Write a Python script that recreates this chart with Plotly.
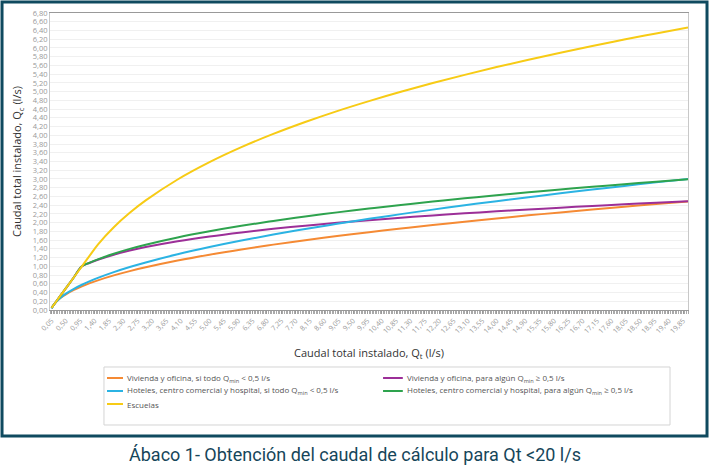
import plotly.graph_objects as go

# caudal total instalado Qt (l/s)
qt = [0.05, 0.1, 0.2, 0.35, 0.5, 0.75, 1.0, 1.25, 1.5, 2, 2.5, 3, 4, 5, 6, 7, 8, 9, 10,
      11, 12, 13, 14, 15, 16, 17, 18, 19, 20]

viv_bajo = [0.037, 0.102, 0.191, 0.285, 0.359, 0.459, 0.542, 0.614, 0.679, 0.792, 0.890,
            0.978, 1.133, 1.267, 1.387, 1.497, 1.598, 1.693, 1.782, 1.867, 1.946, 2.023,
            2.096, 2.167, 2.235, 2.300, 2.364, 2.426, 2.486]
viv_alto = [0.05, 0.10, 0.20, 0.35, 0.50, 0.75, 1.000, 1.082, 1.151, 1.266, 1.361, 1.441,
            1.574, 1.684, 1.777, 1.858, 1.931, 1.997, 2.057, 2.113, 2.165, 2.213, 2.259,
            2.302, 2.343, 2.382, 2.420, 2.455, 2.489]
hot_bajo = [0.036, 0.101, 0.192, 0.293, 0.374, 0.484, 0.578, 0.660, 0.735, 0.867, 0.984,
            1.089, 1.276, 1.441, 1.590, 1.727, 1.854, 1.974, 2.087, 2.195, 2.298, 2.397,
            2.492, 2.583, 2.672, 2.758, 2.841, 2.922, 3.002]
hot_alto = [0.05, 0.10, 0.20, 0.35, 0.50, 0.75, 1.000, 1.085, 1.160, 1.289, 1.399, 1.495,
            1.661, 1.802, 1.927, 2.039, 2.141, 2.235, 2.323, 2.405, 2.483, 2.557, 2.627,
            2.695, 2.759, 2.821, 2.880, 2.938, 2.993]
escuelas = [0.05, 0.10, 0.20, 0.35, 0.50, 0.75, 1.00, 1.25, 1.499, 1.896, 2.225, 2.509,
            2.988, 3.385, 3.728, 4.031, 4.304, 4.554, 4.783, 4.996, 5.196, 5.384, 5.563,
            5.731, 5.892, 6.046, 6.192, 6.333, 6.469]

series = [
    ("Vivienda y oficina, si todo Q<sub>min</sub> < 0,5 l/s", viv_bajo, "#f58a34"),
    ("Vivienda y oficina, para algún Q<sub>min</sub> ≥ 0,5 l/s", viv_alto, "#9c2f98"),
    ("Hoteles, centro comercial y hospital, si todo Q<sub>min</sub> < 0,5 l/s", hot_bajo, "#2bb3e3"),
    ("Hoteles, centro comercial y hospital, para algún Q<sub>min</sub> ≥ 0,5 l/s", hot_alto, "#2ea34e"),
    ("Escuelas", escuelas, "#f7cb15"),
]

fig = go.Figure()
for name, vals, color in series:
    fig.add_trace(go.Scatter(x=qt, y=vals, name=name, mode="lines",
                             line=dict(color=color, width=2, shape="spline")))

frame = "#0f4a5f"
shapes = [
    dict(type="rect", xref="paper", yref="paper", x0=-0.0752, x1=1.0298, y0=-0.424, y1=1.037,
         line=dict(color=frame, width=3), layer="below"),
    # caja de la leyenda
    dict(type="rect", xref="paper", yref="paper", x0=0.0846, x1=0.9718, y0=-0.3872, y1=-0.1919,
         line=dict(color="#d4d4d4", width=1), fillcolor="white", layer="below"),
]
annotations = [
    dict(text="Ábaco 1- Obtención del caudal de cálculo para Qt <20 l/s",
         xref="paper", yref="paper", x=0.478, y=-0.488, xanchor="center", yanchor="middle",
         showarrow=False, font=dict(family="Roboto", size=18, color="#16465a")),
]

# leyenda en dos columnas, como en el original
row_y = [-0.229, -0.2727, -0.3165]
col_x = [(0.0893, 0.1144), (0.522, 0.553)]
for i, (name, vals, color) in enumerate(series):
    x0, x1 = col_x[i % 2]
    y = row_y[i // 2]
    shapes.append(dict(type="line", xref="paper", yref="paper", x0=x0, x1=x1, y0=y, y1=y,
                       line=dict(color=color, width=2)))
    annotations.append(dict(text=name, xref="paper", yref="paper", x=x1 + 0.003, y=y,
                            xanchor="left", yanchor="middle", showarrow=False,
                            font=dict(size=8, color="#555")))

fig.update_layout(
    width=709, height=468,
    margin=dict(l=50, r=21, t=13, b=158),
    paper_bgcolor="white", plot_bgcolor="white",
    separators=", ",
    font=dict(family="Open Sans", color="#444"),
    showlegend=False,
    shapes=shapes,
    annotations=annotations,
)

fig.update_xaxes(
    range=[0, 20], tickmode="linear", tick0=0.05, dtick=0.45, tickformat=".2f",
    tickangle=-45, tickfont=dict(size=7, color="#999"),
    showgrid=False, zeroline=False, automargin=False,
    showline=True, linecolor="#999", linewidth=1, mirror=True,
    ticks="outside", ticklen=3, tickcolor="#999",
    minor=dict(ticks="outside", dtick=0.05, ticklen=3, tickcolor="#aaa", tick0=0.05),
    title=dict(text="Caudal total instalado, Q<sub>t</sub> (l/s)",
               font=dict(size=11, color="#333"), standoff=14),
)
fig.update_yaxes(
    range=[0, 6.8], dtick=0.2, tickformat=".2f",
    tickfont=dict(size=7.5, color="#999"),
    showgrid=True, gridcolor="#f0f0f0", zeroline=False, automargin=False,
    showline=True, linecolor="#c8c8c8", linewidth=1, mirror=True,
    title=dict(text="Caudal total instalado, Q<sub>c</sub> (l/s)",
               font=dict(size=11, color="#333"), standoff=8),
)

fig.write_html("out.html", config={"displayModeBar": False},
               post_script="document.body.style.margin='0';")
